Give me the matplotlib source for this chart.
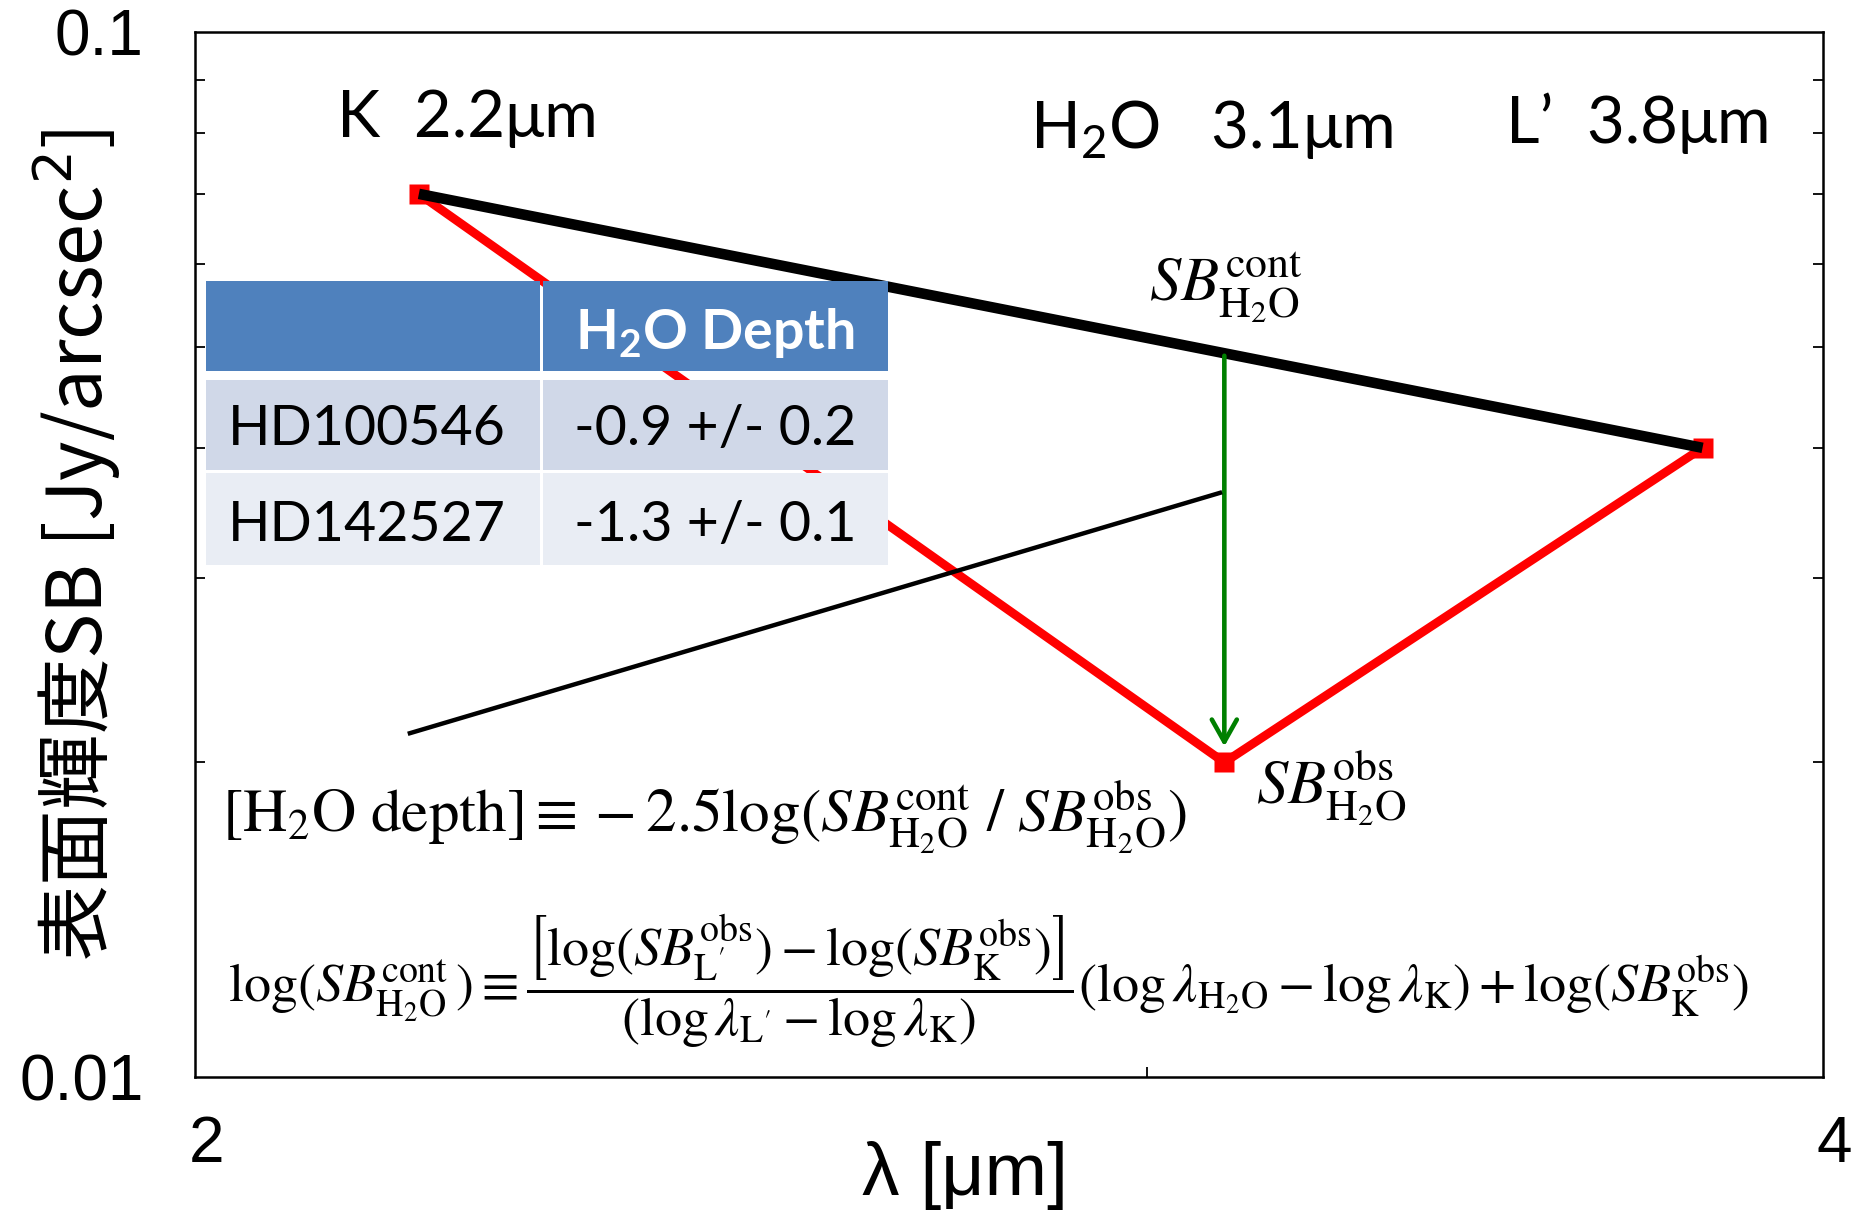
import matplotlib
matplotlib.use('Agg')
import matplotlib.pyplot as plt
import matplotlib.transforms as mtransforms
from matplotlib.patches import Rectangle
from matplotlib.lines import Line2D
from matplotlib.ticker import FixedLocator, FixedFormatter, NullFormatter

# Fonts: Arial-like axes text, Calibri-like annotations, Times-like formulas
plt.rcParams['font.family'] = ['Liberation Sans', 'DejaVu Sans']
plt.rcParams['mathtext.fontset'] = 'custom'
plt.rcParams['mathtext.rm'] = 'Lato'
plt.rcParams['mathtext.it'] = 'Lato:italic'
plt.rcParams['mathtext.bf'] = 'Lato:bold'
plt.rcParams['mathtext.sf'] = 'Lato'
plt.rcParams['mathtext.fallback'] = 'stix'

# ---- data ----
wavelength = [2.2, 3.1, 3.8]              # K, H2O, L' band centres [um]
sb_obs = [0.07, 0.02, 0.04]               # observed surface brightness [Jy/arcsec^2]
sb_cont_h2o = 0.049                       # continuum level at 3.1 um
band_labels = ['K  2.2μm', r'H$_2$O   3.1μm', 'L’  3.8μm']
stars = ['HD100546', 'HD142527']
h2o_depth = ['-0.9 +/- 0.2', '-1.3 +/- 0.1']
table_header = r'H$_{\mathbf{2}}$O Depth'
xtick_values = [2, 4]
xtick_labels = ['2', '4']
xminor_values = [3]
ytick_values = [0.01, 0.1]
ytick_labels = ['0.01', '0.1']
yminor_values = [0.02, 0.03, 0.04, 0.05, 0.06, 0.07, 0.08, 0.09]

W, H = 1863, 1218
fig = plt.figure(figsize=(W / 100, H / 100), dpi=100)
ax = fig.add_axes([195 / W, 1 - 1077 / H, 1628 / W, 1045 / H])
ax.set_xscale('log')
ax.set_yscale('log')
ax.set_xlim(2, 4)
ax.set_ylim(0.01, 0.1)

# observed spectrum (red) and K-L' continuum (black)
ax.plot(wavelength, sb_obs, color='#ff0000', lw=6.3, zorder=3)
ax.plot(wavelength, sb_obs, ls='none', marker='s', ms=14, color='#ff0000',
        mec='none', zorder=4)
ax.plot([wavelength[0], wavelength[2]], [sb_obs[0], sb_obs[2]],
        color='black', lw=7.6, zorder=5, solid_capstyle='butt')

# depth arrow from continuum down to the observed value
ax.annotate('', xy=(wavelength[1], sb_obs[1]), xytext=(wavelength[1], sb_cont_h2o),
            arrowprops=dict(arrowstyle='->,head_length=0.8,head_width=0.45',
                            color='#008000', lw=3.3, shrinkA=0, shrinkB=11.5,
                            mutation_scale=20),
            zorder=6)

# pointer line from the depth formula to the arrow
ax.add_line(Line2D([0.132, 0.6296], [0.329, 0.559], transform=ax.transAxes,
                   color='black', lw=3.2, zorder=6))

# axes styling
for s in ax.spines.values():
    s.set_linewidth(1.8)
ax.xaxis.set_major_locator(FixedLocator(xtick_values))
ax.xaxis.set_major_formatter(FixedFormatter(xtick_labels))
ax.xaxis.set_minor_locator(FixedLocator(xminor_values))
ax.xaxis.set_minor_formatter(NullFormatter())
ax.yaxis.set_major_locator(FixedLocator(ytick_values))
ax.yaxis.set_major_formatter(FixedFormatter(ytick_labels))
ax.yaxis.set_minor_locator(FixedLocator(yminor_values))
ax.yaxis.set_minor_formatter(NullFormatter())
ax.tick_params(axis='x', which='both', direction='in', top=False, bottom=True,
               labelsize=46, pad=27)
ax.tick_params(axis='y', which='both', direction='in', left=True, right=True,
               labelsize=46, pad=37)
ax.tick_params(which='minor', length=7.2, width=1.3)
ax.tick_params(which='major', length=0)
shift = mtransforms.ScaledTranslation(8 / 72, 0, fig.dpi_scale_trans)
for lab in ax.get_xticklabels():
    lab.set_transform(lab.get_transform() + shift)

# band labels
lato = ['Lato', 'DejaVu Sans']
band_pos = [(0.0872, 0.8995), (0.5129, 0.8890), (0.8053, 0.8938)]
for (bx, by), lab in zip(band_pos, band_labels):
    ax.text(bx, by, lab, transform=ax.transAxes, fontsize=47, family=lato,
            ha='left', va='baseline', math_fontfamily='custom', zorder=7)

# SB labels
ax.text(0.586, 0.7435, r'$SB^{\mathrm{cont}}_{\mathrm{H_2O}}$', transform=ax.transAxes,
        fontsize=45, ha='left', va='baseline', math_fontfamily='stix', zorder=7)
ax.text(0.6517, 0.2622, r'$SB^{\mathrm{obs}}_{\mathrm{H_2O}}$', transform=ax.transAxes,
        fontsize=45, ha='left', va='baseline', math_fontfamily='stix', zorder=7)

# formulas
ax.text(0.0164, 0.2344,
        r'$[\mathrm{H_2O\ depth}]\equiv -2.5\log(SB^{\mathrm{cont}}_{\mathrm{H_2O}}\ /\ SB^{\mathrm{obs}}_{\mathrm{H_2O}})$',
        transform=ax.transAxes, fontsize=44, ha='left', va='baseline',
        math_fontfamily='stix', zorder=7)
ax.text(0.0203, 0.0720,
        r'$\log(SB^{\mathrm{cont}}_{\mathrm{H_2O}}\,)\equiv'
        r'\dfrac{\left[\log(SB^{\mathrm{obs}}_{\mathrm{L^{\prime}}})-\log(SB^{\mathrm{obs}}_{\mathrm{K}})\right]}'
        r'{(\log\lambda_{\mathrm{L^{\prime}}}-\log\lambda_{\mathrm{K}})}'
        r'(\log\lambda_{\mathrm{H_2O}}-\log\lambda_{\mathrm{K}})+\log(SB^{\mathrm{obs}}_{\mathrm{K}})$',
        transform=ax.transAxes, fontsize=39, ha='left', va='baseline',
        math_fontfamily='stix', zorder=7)

# table of H2O depths
col_x = [(0.00651, 0.2119), (0.2137, 0.4257)]
row_y = [(0.6756, 0.7617), (0.5809, 0.667), (0.49, 0.578)]
row_colors = ['#4f81bd', '#d0d8e8', '#e9edf4']
for (y0, y1), c in zip(row_y, row_colors):
    for (x0, x1) in col_x:
        ax.add_patch(Rectangle((x0, y0), x1 - x0, y1 - y0, transform=ax.transAxes,
                               facecolor=c, edgecolor='none', zorder=10))
ax.text(0.3194, 0.6967, table_header, transform=ax.transAxes, fontsize=40,
        family=lato, weight='bold', color='white', ha='center', va='baseline',
        math_fontfamily='custom', zorder=11)
row_base = [0.6048, 0.5129]
for yb, star, val in zip(row_base, stars, h2o_depth):
    ax.text(0.0203, yb, star, transform=ax.transAxes, fontsize=40, family=lato,
            ha='left', va='baseline', zorder=11)
    ax.text(0.3194, yb, val, transform=ax.transAxes, fontsize=40, family=lato,
            ha='center', va='baseline', zorder=11)

# axis labels
fig.text(77 / W, 1 - 545 / H, '表面輝度SB [Jy/arcsec$^2$]', rotation=90,
         ha='center', va='center', fontsize=54.5,
         family=['Noto Sans CJK JP', 'DejaVu Sans'], math_fontfamily='dejavusans')
fig.text(965 / W, 1 - 1176 / H, 'λ [μm]', ha='center', va='center', fontsize=54)

fig.savefig('out.png', dpi=100)
